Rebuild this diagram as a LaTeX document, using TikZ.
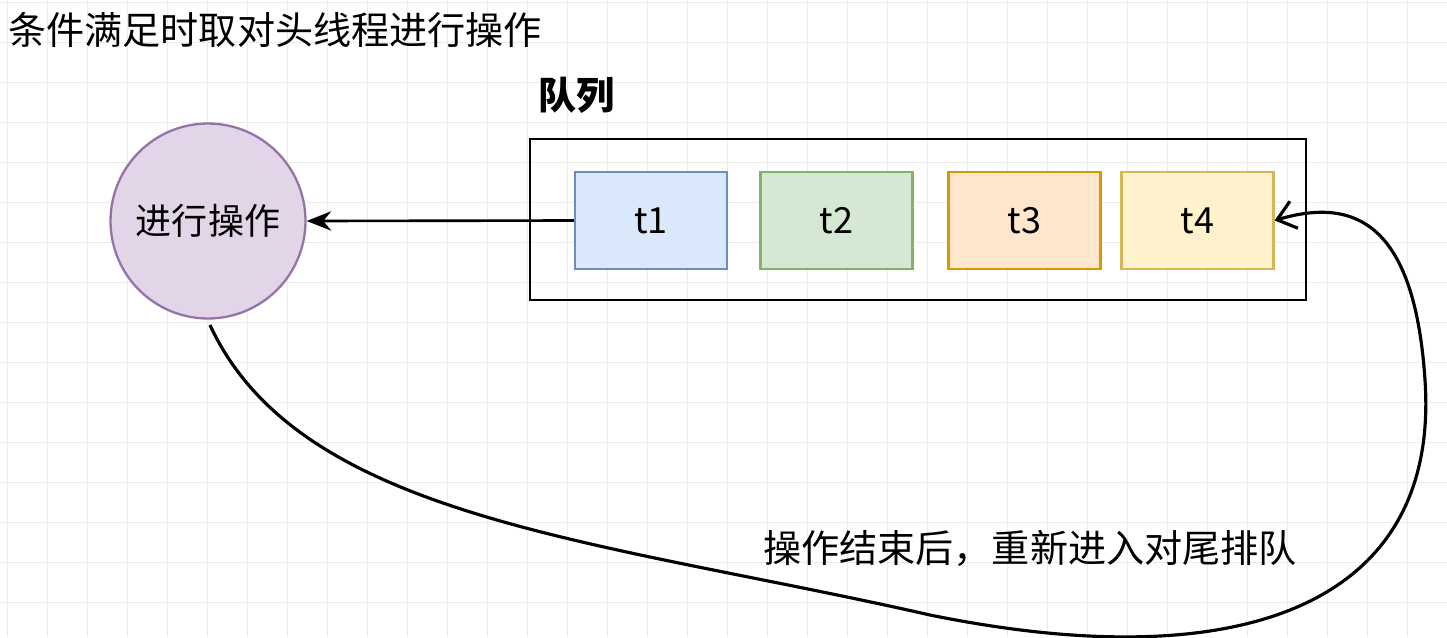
\documentclass[tikz,border=0pt]{standalone}
\usepackage{fontspec}
\setmainfont{Noto Sans CJK SC}
\usetikzlibrary{arrows.meta}
\definecolor{gridc}{HTML}{EBEBEB}
\tikzset{
 box/.style={draw, line width=1.3pt, minimum width=3.04cm, minimum height=1.94cm, font=\fontsize{20.5}{24}\selectfont},
 lbl/.style={font=\fontsize{21.7}{25}\selectfont, inner sep=0pt}
}
\begin{document}
\begin{tikzpicture}[x=0.02cm,y=-0.02cm]
\useasboundingbox (0,0) rectangle (1447,637);
\fill[white] (0,0) rectangle (1447,637);
\foreach \i in {0,...,36} {\draw[gridc,line width=0.5pt] (\i*40+7,0) -- (\i*40+7,637);}
\foreach \j in {0,...,16} {\draw[gridc,line width=0.5pt] (0,\j*40+2) -- (1447,\j*40+2);}
\node[lbl, anchor=west] (title) at (8,30) {条件满足时取对头线程进行操作};
\node[lbl, anchor=west, font=\fontsize{21.7}{25}\selectfont\bfseries] (qlabel) at (538,95) {队列};
\node[draw, line width=1.5pt, minimum width=15.52cm, minimum height=3.22cm] (queue) at (918,219.5) {};
\node[box, fill={rgb,255:red,218;green,232;blue,252}, draw={rgb,255:red,108;green,142;blue,191}] (t1) at (651,220.5) {t1};
\node[box, fill={rgb,255:red,213;green,232;blue,212}, draw={rgb,255:red,130;green,179;blue,102}] (t2) at (836.5,220.5) {t2};
\node[box, fill={rgb,255:red,255;green,230;blue,204}, draw={rgb,255:red,215;green,155;blue,0}] (t3) at (1024.5,220.5) {t3};
\node[box, fill={rgb,255:red,255;green,242;blue,204}, draw={rgb,255:red,214;green,182;blue,86}] (t4) at (1197.5,220.5) {t4};
\node[circle, draw={rgb,255:red,150;green,115;blue,166}, fill={rgb,255:red,225;green,213;blue,231}, line width=1.3pt, minimum size=3.9cm, font=\fontsize{20.5}{24}\selectfont] (op) at (208,221) {进行操作};
\draw[line width=1.5pt, -{Stealth[length=14pt,width=11pt]}] (t1.west) -- (op.east);
\coordinate (c0) at (210,325);
\draw[line width=1.8pt, -{Straight Barb[length=10pt,width=16pt]}] (c0) .. controls (300,520) and (600,540) .. (930,615) .. controls (1250,680) and (1440,600) .. (1425,380) .. controls (1415,230) and (1360,195) .. (t4.east);
\node[lbl] (note) at (1030,548) {操作结束后，重新进入对尾排队};
\end{tikzpicture}
\end{document}
